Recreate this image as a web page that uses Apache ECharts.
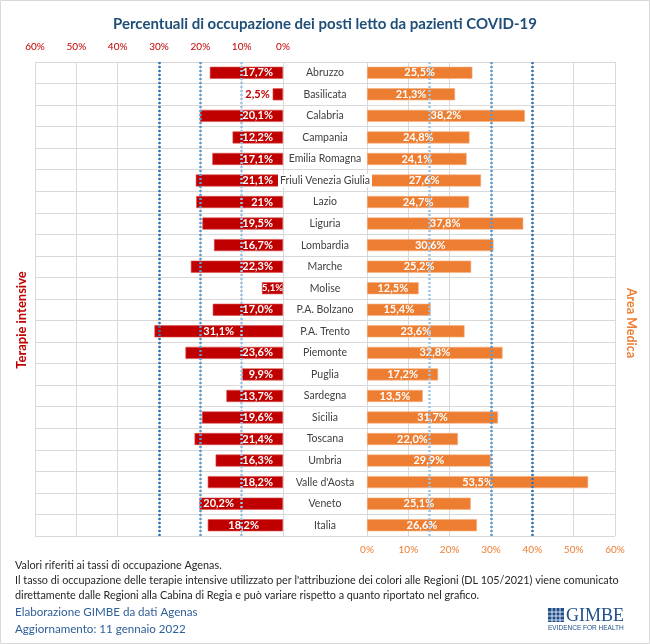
<!DOCTYPE html>
<html>
<head>
<meta charset="utf-8">
<title>Posti letto COVID-19</title>
<script src="https://cdn.jsdelivr.net/npm/echarts@6/dist/echarts.min.js"></script>
<style>
  html, body { margin: 0; padding: 0; background: #fff; }
  #main { width: 650px; height: 644px; }
</style>
</head>
<body>
<div id="main"></div>
<script>
// 数据：各地区床位占用率（%）
var regioni = ['Abruzzo', 'Basilicata', 'Calabria', 'Campania', 'Emilia Romagna', 'Friuli Venezia Giulia',
  'Lazio', 'Liguria', 'Lombardia', 'Marche', 'Molise', 'P.A. Bolzano', 'P.A. Trento', 'Piemonte',
  'Puglia', 'Sardegna', 'Sicilia', 'Toscana', 'Umbria', "Valle d'Aosta", 'Veneto', 'Italia'];
var terapieIntensive = [17.7, 2.5, 20.1, 12.2, 17.1, 21.1, 21, 19.5, 16.7, 22.3, 5.1,
  17.0, 31.1, 23.6, 9.9, 13.7, 19.6, 21.4, 16.3, 18.2, 20.2, 18.2];
var terapieEtichette = ['17,7%', '2,5%', '20,1%', '12,2%', '17,1%', '21,1%', '21%', '19,5%', '16,7%',
  '22,3%', '5,1%', '17,0%', '31,1%', '23,6%', '9,9%', '13,7%', '19,6%', '21,4%', '16,3%', '18,2%',
  '20,2%', '18,2%'];
var areaMedica = [25.5, 21.3, 38.2, 24.8, 24.1, 27.6, 24.7, 37.8, 30.6, 25.2, 12.5,
  15.4, 23.6, 32.8, 17.2, 13.5, 31.7, 22.0, 29.9, 53.5, 25.1, 26.6];
// 阈值线
var soglieTI = [10, 20, 30];
var soglieAM = [15, 30, 40];
var asseMax = 60;
var asseIntervallo = 10;

var rosso = '#C00000';
var arancio = '#ED7D31';
var blu = ['#9DC3E6', '#5B9BD5', '#2E75B6'];
var font = 'Lato';

function percento(v) {
  return v.toFixed(1).replace('.', ',') + '%';
}

function soglia(valori) {
  return valori.map(function (v, i) {
    return { xAxis: v, lineStyle: { color: blu[i] } };
  });
}

function chart() {
  // 初始化实例
  var myChart = echarts.init(document.getElementById('main'));
  window.addEventListener('resize', () => myChart.resize(), false);

  // 左侧条形的标签微调
  var datiTI = terapieIntensive.map(function (v, i) {
    var item = { value: v };
    if (i === 1) item.label = { position: 'left', color: rosso, distance: 3 };
    if (i === 10) item.label = { distance: 0, fontSize: 9.5, overflow: 'none' };
    if (i === 12) item.label = { position: 'inside' };
    if (i === 20) item.label = { distance: 49 };
    if (i === 21) item.label = { distance: 24 };
    return item;
  });

  var splitGrigio = { show: true, lineStyle: { color: '#d9d9d9', width: 1 } };

  var option = {
    animation: false,
    textStyle: { fontFamily: font },
    title: {
      text: 'Percentuali di occupazione dei posti letto da pazienti COVID-19',
      left: 'center',
      top: 12,
      textStyle: { color: '#1F4E79', fontSize: 15, fontWeight: 'bold', fontFamily: font }
    },
    grid: [
      { left: 35, top: 62, width: 248, height: 474 },
      { left: 283, top: 62, width: 84, height: 474 },
      { left: 367, top: 62, width: 248, height: 474 }
    ],
    xAxis: [
      {
        gridIndex: 0, type: 'value', min: 0, max: asseMax, interval: asseIntervallo,
        inverse: true, position: 'top',
        axisLine: { show: false }, axisTick: { show: false },
        axisLabel: { formatter: '{value}%', color: rosso, fontSize: 10, margin: 10 },
        splitLine: splitGrigio
      },
      {
        gridIndex: 1, type: 'value', min: 0, max: 1, show: false
      },
      {
        gridIndex: 2, type: 'value', min: 0, max: asseMax, interval: asseIntervallo,
        position: 'bottom',
        axisLine: { show: false }, axisTick: { show: false },
        axisLabel: { formatter: '{value}%', color: arancio, fontSize: 10, margin: 9 },
        splitLine: splitGrigio
      }
    ],
    yAxis: [
      {
        gridIndex: 0, type: 'category', data: regioni, inverse: true,
        axisLine: { show: false }, axisTick: { show: false }, axisLabel: { show: false },
        splitLine: splitGrigio
      },
      {
        gridIndex: 1, type: 'category', data: regioni, inverse: true, z: 10,
        axisLine: { show: false }, axisTick: { show: false },
        axisLabel: {
          inside: true, margin: 42, align: 'center', color: '#404040', fontSize: 10.5,
          backgroundColor: '#fff', padding: [1, 2]
        },
        splitLine: splitGrigio
      },
      {
        gridIndex: 2, type: 'category', data: regioni, inverse: true,
        axisLine: { show: false }, axisTick: { show: false }, axisLabel: { show: false },
        splitLine: splitGrigio
      }
    ],
    graphic: [
      // 外框
      {
        type: 'rect', shape: { x: 0.5, y: 0.5, width: 649, height: 643 },
        style: { fill: 'none', stroke: '#d9d9d9', lineWidth: 1 }, silent: true
      },
      {
        type: 'text', x: 22, y: 320, rotation: Math.PI / 2,
        style: {
          text: 'Terapie intensive', fill: rosso, font: 'bold 13px ' + font,
          textAlign: 'center', textVerticalAlign: 'middle'
        }
      },
      {
        type: 'text', x: 631, y: 323, rotation: -Math.PI / 2,
        style: {
          text: 'Area Medica', fill: arancio, font: 'bold 12.5px ' + font,
          textAlign: 'center', textVerticalAlign: 'middle'
        }
      },
      {
        type: 'text', x: 15, y: 558,
        style: {
          text: 'Valori riferiti ai tassi di occupazione Agenas.\n' +
            "Il tasso di occupazione delle terapie intensive utilizzato per l'attribuzione dei colori alle Regioni (DL 105/2021) viene comunicato\n" +
            'direttamente dalle Regioni alla Cabina di Regia e può variare rispetto a quanto riportato nel grafico.',
          fill: '#262626', font: '10.8px ' + font, lineHeight: 15
        }
      },
      {
        type: 'text', x: 15, y: 604,
        style: {
          text: 'Elaborazione GIMBE da dati Agenas\nAggiornamento: 11 gennaio 2022',
          fill: '#2E5F99', font: '11.6px ' + font, lineHeight: 17
        }
      },
      // GIMBE 标志
      {
        type: 'group', x: 548, y: 607,
        children: [
          { type: 'rect', shape: { x: 0, y: 1, width: 16, height: 14 }, style: { fill: '#1F4E8C' } },
          { type: 'polyline', shape: { points: [[4, 1], [4, 15]] }, style: { stroke: '#fff', lineWidth: 0.8 } },
          { type: 'polyline', shape: { points: [[8, 1], [8, 15]] }, style: { stroke: '#fff', lineWidth: 0.8 } },
          { type: 'polyline', shape: { points: [[12, 1], [12, 15]] }, style: { stroke: '#fff', lineWidth: 0.8 } },
          { type: 'polyline', shape: { points: [[0, 5], [16, 5]] }, style: { stroke: '#fff', lineWidth: 0.8 } },
          { type: 'polyline', shape: { points: [[0, 9], [16, 9]] }, style: { stroke: '#fff', lineWidth: 0.8 } },
          { type: 'polyline', shape: { points: [[0, 13], [16, 13]] }, style: { stroke: '#fff', lineWidth: 0.8 } },
          {
            type: 'text', x: 18, y: 0,
            style: { text: 'GIMBE', fill: '#1F4E8C', font: '18px "Liberation Serif"' }
          },
          {
            type: 'text', x: 0, y: 18,
            style: { text: 'EVIDENCE FOR HEALTH', fill: '#1F4E8C', font: '6.5px "Liberation Sans"' }
          }
        ]
      }
    ],
    series: [
      {
        name: 'Terapie intensive',
        type: 'bar',
        xAxisIndex: 0,
        yAxisIndex: 0,
        barWidth: '56%',
        data: datiTI,
        itemStyle: { color: rosso, borderColor: '#d9534f', borderWidth: 0.6 },
        label: {
          show: true, position: 'insideRight', distance: 10,
          color: '#fff', fontWeight: 'bold', fontSize: 11,
          formatter: function (p) { return terapieEtichette[p.dataIndex]; }
        },
        markLine: {
          silent: true, symbol: 'none', label: { show: false },
          lineStyle: { type: [2, 2], width: 2.5 },
          data: soglia(soglieTI)
        }
      },
      {
        name: 'Area Medica',
        type: 'bar',
        xAxisIndex: 2,
        yAxisIndex: 2,
        barWidth: '56%',
        data: areaMedica,
        itemStyle: { color: arancio, borderColor: '#f4b183', borderWidth: 0.6 },
        label: {
          show: true, position: 'inside',
          color: '#fff', fontWeight: 'bold', fontSize: 11,
          formatter: function (p) { return percento(p.value); }
        },
        markLine: {
          silent: true, symbol: 'none', label: { show: false },
          lineStyle: { type: [2, 2], width: 2.5 },
          data: soglia(soglieAM)
        }
      }
    ]
  };
  myChart.setOption(option);
}

// 页面加载完后执行
window.onload = function () {
  chart();
};
</script>
</body>
</html>
